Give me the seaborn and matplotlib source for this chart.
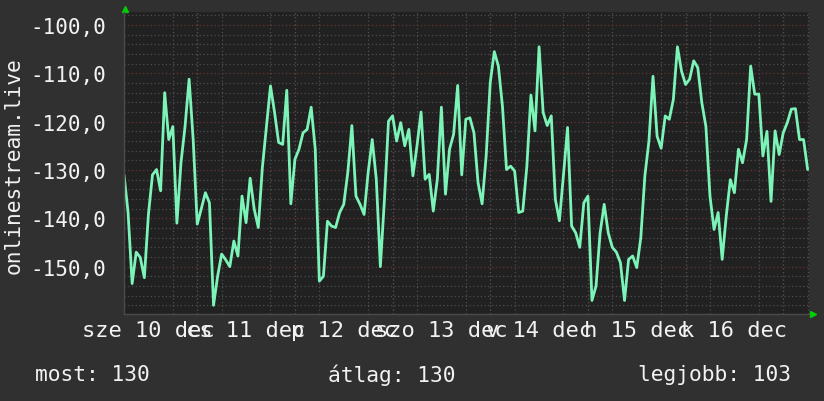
import matplotlib
matplotlib.use("Agg")
import matplotlib.pyplot as plt
import matplotlib.dates as mdates
from matplotlib.ticker import MultipleLocator, FuncFormatter
import numpy as np
import pandas as pd
import seaborn as sns

# hourly samples, Dec 10 06:00 -> Dec 17 06:00
start = "2025-12-10 06:00"
values = [
    -131.0, -138.8, -153.5, -147.0, -148.1, -152.3, -139.2, -131.0, -129.9, -134.3,
    -114.0, -123.7, -121.0, -141.0, -128.5, -121.0, -111.2, -123.7, -141.2, -138.0,
    -134.7, -136.8, -158.0, -152.0,
    -147.4, -148.6, -150.0, -144.7, -147.8, -135.4, -140.9, -131.7, -138.1, -141.9,
    -129.5, -121.0, -112.6, -118.1, -124.3, -124.7, -113.5, -137.0, -127.8, -125.7,
    -122.3, -121.6, -117.0, -125.7,
    -153.0, -152.0, -140.6, -141.6, -141.9, -138.8, -137.1, -130.5, -120.8, -135.4,
    -137.1, -139.2, -130.5, -123.7, -131.9, -150.0, -136.1, -119.9, -118.8, -124.0,
    -120.2, -125.0, -121.6, -131.2,
    -125.0, -118.0, -131.9, -130.9, -138.5, -131.9, -117.0, -135.0, -125.7, -122.6,
    -112.5, -131.0, -119.5, -119.2, -122.3, -132.6, -137.0, -127.1, -111.9, -105.5,
    -108.5, -116.8, -129.9, -129.2,
    -130.2, -138.8, -138.5, -129.2, -114.5, -121.9, -104.5, -118.1, -120.8, -118.8,
    -136.1, -140.5, -131.0, -121.2, -141.6, -143.0, -146.0, -136.8, -135.4, -157.0,
    -154.0, -143.0, -137.1, -143.0,
    -146.0, -147.0, -149.2, -157.0, -148.5, -147.8, -150.2, -144.0, -131.2, -124.0,
    -110.6, -123.0, -125.5, -118.8, -119.5, -115.4, -104.5, -109.5, -112.3, -111.2,
    -107.4, -108.8, -116.1, -121.0,
    -135.4, -142.3, -138.8, -148.5, -139.5, -132.0, -134.7, -125.7, -128.5, -123.7,
    -108.5, -114.3, -114.3, -127.1, -122.0, -136.5, -121.9, -126.8, -122.3, -120.2,
    -117.4, -117.3, -123.7, -123.7, -129.9,
]
day_labels = ["sze 10 dec", "cs 11 dec", "p 12 dec", "szo 13 dec",
              "v 14 dec", "h 15 dec", "k 16 dec"]
series_name = "onlinestream.live"
stats = ["most: 130", "átlag: 130", "legjobb: 103"]

times = pd.date_range(start, periods=len(values), freq="h")
df = pd.DataFrame({"time": times, "value": values})

sns.set_theme(style="dark")
plt.rcParams['font.family'] = ['DejaVu Sans Mono', 'DejaVu Sans']

bg = "#303030"
plot_bg = "#212121"
fg = "#f2f2f2"
line_col = "#7cf4b8"

fig = plt.figure(figsize=(8.24, 4.02), dpi=100, facecolor=bg)
ax = fig.add_axes([124/824, 1-315/402, (809-124)/824, (315-13)/402])
ax.set_facecolor(plot_bg)

t0 = pd.Timestamp("2025-12-10 06:00")
t1 = pd.Timestamp("2025-12-17 06:20")
ax.set_xlim(t0, t1)
ax.set_ylim(-159.8, -97.3)

# grid
ax.xaxis.set_minor_locator(mdates.HourLocator(byhour=[0, 6, 12, 18]))
ax.yaxis.set_minor_locator(MultipleLocator(2))
ax.yaxis.set_major_locator(MultipleLocator(10))
ax.grid(which="minor", color="#4d4d4d", linestyle=(0, (1, 2)), linewidth=0.9)
ax.grid(which="major", axis="y", color="#6a3434", linestyle=(0, (1, 2)), linewidth=0.9)
ax.grid(which="major", axis="x", visible=False)
for d in pd.date_range("2025-12-11", "2025-12-17", freq="D"):
    ax.axvline(d, color="#6a3434", linestyle=(0, (1, 2)), linewidth=0.9, zorder=0.5)

sns.lineplot(data=df, x="time", y="value", ax=ax, color=line_col,
             linewidth=2.0, legend=False)

noons = pd.date_range("2025-12-10 12:00", periods=len(day_labels), freq="D")
ax.set_xticks(noons)
ax.set_xticklabels(day_labels)
ax.yaxis.set_major_formatter(FuncFormatter(lambda v, p: f"{v:.1f}".replace(".", ",")))
ax.tick_params(axis="x", which="major", length=0, pad=4, labelsize=15.8, colors=fg)
ax.tick_params(axis="y", which="major", length=0, pad=13, labelsize=15, colors=fg)
ax.tick_params(which="minor", length=0)
ax.set_xlabel("")
ax.set_ylabel("")

for s in ["top", "right"]:
    ax.spines[s].set_visible(False)
for s in ["left", "bottom"]:
    ax.spines[s].set_color("#4a4a4a")
    ax.spines[s].set_linewidth(1.0)

# axis arrows
ax.plot([0.002], [1.01], marker="^", color="#00d000", markersize=5,
        transform=ax.transAxes, clip_on=False)
ax.plot([1.006], [0.0], marker=">", color="#00d000", markersize=5,
        transform=ax.transAxes, clip_on=False)

fig.text(14/824, 1-166/402, series_name, rotation=90, ha="center", va="center",
         color=fg, fontsize=15.3)
fig.text(35/824, 1-375/402, stats[0], ha="left", va="center", color=fg, fontsize=15.3)
fig.text(328/824, 1-375/402, stats[1], ha="left", va="center", color=fg, fontsize=15.3)
fig.text(791/824, 1-375/402, stats[2], ha="right", va="center", color=fg, fontsize=15.3)

fig.savefig("out.png", dpi=100, facecolor=bg)
